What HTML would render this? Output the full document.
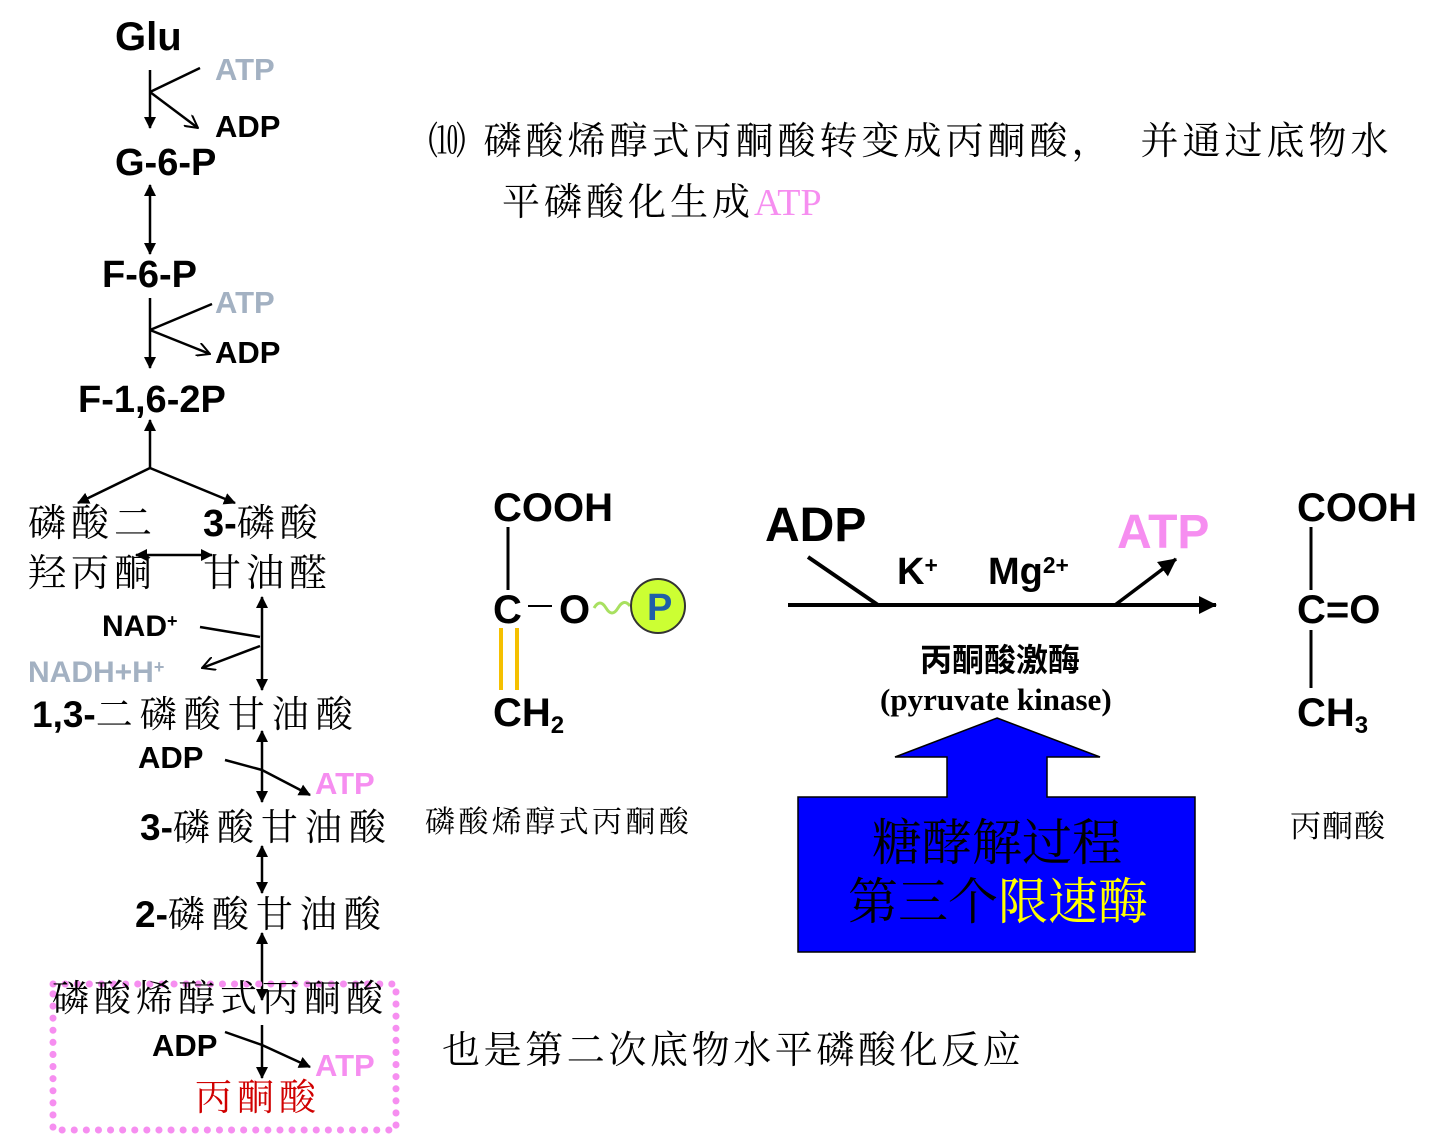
<!DOCTYPE html>
<html><head><meta charset="utf-8"><style>
body{margin:0;width:1440px;height:1136px;background:#fff;position:relative;overflow:hidden}
.t{position:absolute;white-space:nowrap;line-height:1;font-family:"Liberation Sans","Noto Sans CJK SC",sans-serif;font-weight:bold;color:#000}
.k{font-family:"Liberation Serif","Noto Serif CJK SC",serif;font-weight:normal;letter-spacing:5px}
.g{color:#a3b1c2}.p{color:#f68ef0}
sup{font-size:60%;vertical-align:0;position:relative;top:-0.5em}
sub{font-size:60%;vertical-align:0;position:relative;top:0.3em}
</style></head><body>
<svg width="1440" height="1136" style="position:absolute;left:0;top:0">
<defs>
<marker id="a" markerWidth="12" markerHeight="12" refX="11" refY="6" orient="auto-start-reverse" markerUnits="userSpaceOnUse"><path d="M0,0L12,6L0,12z" fill="#000"/></marker>
<marker id="o" markerWidth="14" markerHeight="14" refX="13" refY="7" orient="auto" markerUnits="userSpaceOnUse"><path d="M0,0L13,7L0,14" fill="none" stroke="#000" stroke-width="2"/></marker>
<marker id="b" markerWidth="18" markerHeight="18" refX="17" refY="9" orient="auto" markerUnits="userSpaceOnUse"><path d="M0,0L18,9L0,18z" fill="#000"/></marker>
</defs>
<g stroke="#000" stroke-width="2.5" fill="none">
<line x1="150" y1="70" x2="150" y2="128" marker-end="url(#a)"/>
<line x1="150" y1="92" x2="200" y2="68"/>
<line x1="150" y1="92" x2="198" y2="128" marker-end="url(#o)"/>
<line x1="150" y1="185" x2="150" y2="254" marker-end="url(#a)" marker-start="url(#a)"/>
<line x1="150" y1="298" x2="150" y2="368" marker-end="url(#a)"/>
<line x1="150" y1="330" x2="212" y2="304"/>
<line x1="150" y1="330" x2="210" y2="354" marker-end="url(#o)"/>
<line x1="150" y1="468" x2="150" y2="420" marker-end="url(#a)"/>
<line x1="150" y1="468" x2="78" y2="503" marker-end="url(#a)"/>
<line x1="150" y1="468" x2="235" y2="503" marker-end="url(#a)"/>
<line x1="136" y1="555" x2="212" y2="555" marker-end="url(#a)" marker-start="url(#a)"/>
<line x1="262" y1="597" x2="262" y2="690" marker-end="url(#a)" marker-start="url(#a)"/>
<line x1="200" y1="627" x2="260" y2="637"/>
<line x1="260" y1="646" x2="202" y2="668" marker-end="url(#o)"/>
<line x1="262" y1="731" x2="262" y2="802" marker-end="url(#a)" marker-start="url(#a)"/>
<line x1="225" y1="760" x2="262" y2="770"/>
<line x1="262" y1="770" x2="310" y2="795" marker-end="url(#a)"/>
<line x1="262" y1="846" x2="262" y2="893" marker-end="url(#a)" marker-start="url(#a)"/>
<line x1="262" y1="933" x2="262" y2="1000" marker-end="url(#a)" marker-start="url(#a)"/>
<line x1="262" y1="1025" x2="262" y2="1078" marker-end="url(#a)"/>
<line x1="225" y1="1032" x2="262" y2="1045"/>
<line x1="262" y1="1045" x2="310" y2="1067" marker-end="url(#a)"/>
</g>
<rect x="53" y="984" width="343" height="146" fill="none" stroke="#f68ef0" stroke-width="7" stroke-dasharray="0.1 12" stroke-linecap="round"/>
<g stroke="#000" stroke-width="3">
<line x1="508" y1="527" x2="508" y2="590"/>
<line x1="528" y1="606" x2="552" y2="606" stroke-width="2"/>
<line x1="1311" y1="527" x2="1311" y2="590"/>
<line x1="1311" y1="630" x2="1311" y2="688"/>
</g>
<line x1="501" y1="628" x2="501" y2="690" stroke="#f5c000" stroke-width="4"/>
<line x1="517" y1="628" x2="517" y2="690" stroke="#f5c000" stroke-width="4"/>
<path d="M594,608 q6,-10 12,0 t12,0 t12,-2" stroke="#a8e060" stroke-width="3" fill="none"/>
<circle cx="658" cy="606" r="27" fill="#ccff33" stroke="#333" stroke-width="2"/>
<g stroke="#000" stroke-width="4">
<line x1="788" y1="605" x2="1216" y2="605" marker-end="url(#b)"/>
<line x1="808" y1="557" x2="878" y2="605"/>
<line x1="1115" y1="605" x2="1176" y2="559" marker-end="url(#b)" stroke-width="3.5"/>
</g>
<polygon points="997,718 1100,757 1047,757 1047,797 1195,797 1195,952 798,952 798,797 947,797 947,757 895,757" fill="#0000ff" stroke="#000" stroke-width="1.5"/>
</svg>

<div class="t" style="left:115px;top:17px;font-size:40px">Glu</div>
<div class="t g" style="left:215px;top:54px;font-size:31px">ATP</div>
<div class="t" style="left:215px;top:111px;font-size:31px">ADP</div>
<div class="t" style="left:115px;top:144px;font-size:38px">G-6-P</div>
<div class="t" style="left:102px;top:256px;font-size:38px">F-6-P</div>
<div class="t g" style="left:215px;top:287px;font-size:31px">ATP</div>
<div class="t" style="left:215px;top:337px;font-size:31px">ADP</div>
<div class="t" style="left:78px;top:381px;font-size:38px">F-1,6-2P</div>
<div class="t k" style="left:28px;top:505px;font-size:38px">磷酸二</div>
<div class="t k" style="left:28px;top:555px;font-size:38px">羟丙酮</div>
<div class="t" style="left:203px;top:505px;font-size:38px">3-<span class="k">磷酸</span></div>
<div class="t k" style="left:203px;top:555px;font-size:38px">甘油醛</div>
<div class="t" style="left:102px;top:612px;font-size:30px">NAD<sup>+</sup></div>
<div class="t g" style="left:28px;top:658px;font-size:30px">NADH+H<sup>+</sup></div>
<div class="t" style="left:32px;top:696px;font-size:37px">1,3-<span class="k" style="letter-spacing:7px">二磷酸甘油酸</span></div>
<div class="t" style="left:138px;top:742px;font-size:31px">ADP</div>
<div class="t p" style="left:315px;top:768px;font-size:31px">ATP</div>
<div class="t" style="left:140px;top:809px;font-size:37px">3-<span class="k" style="letter-spacing:7px">磷酸甘油酸</span></div>
<div class="t" style="left:135px;top:896px;font-size:37px">2-<span class="k" style="letter-spacing:7px">磷酸甘油酸</span></div>
<div class="t k" style="left:52px;top:981px;font-size:37px">磷酸烯醇式丙酮酸</div>
<div class="t" style="left:152px;top:1030px;font-size:31px">ADP</div>
<div class="t p" style="left:315px;top:1050px;font-size:31px">ATP</div>
<div class="t k" style="left:195px;top:1080px;font-size:37px;color:#d00000">丙酮酸</div>

<div class="t k" style="left:428px;top:123px;font-size:38px;letter-spacing:4px">⑽ 磷酸烯醇式丙酮酸转变成丙酮酸，&nbsp;&nbsp;并通过底物水</div>
<div class="t k" style="left:502px;top:184px;font-size:38px;letter-spacing:4px">平磷酸化生成<span class="p" style="letter-spacing:0">ATP</span></div>

<div class="t" style="left:493px;top:488px;font-size:40px">COOH</div>
<div class="t" style="left:493px;top:590px;font-size:40px">C</div>
<div class="t" style="left:559px;top:590px;font-size:40px">O</div>
<div class="t" style="left:647px;top:589px;font-size:38px;color:#1f5fa8">P</div>
<div class="t" style="left:493px;top:693px;font-size:40px">CH<sub>2</sub></div>
<div class="t k" style="left:425px;top:808px;font-size:30px;letter-spacing:3.4px">磷酸烯醇式丙酮酸</div>

<div class="t" style="left:765px;top:502px;font-size:48px">ADP</div>
<div class="t p" style="left:1117px;top:509px;font-size:48px">ATP</div>
<div class="t" style="left:897px;top:553px;font-size:38px">K<sup>+</sup></div>
<div class="t" style="left:988px;top:553px;font-size:38px">Mg<sup>2+</sup></div>
<div class="t" style="left:920px;top:644px;font-size:32px">丙酮酸激酶</div>
<div class="t" style="left:880px;top:684px;font-size:31px;font-family:'Liberation Serif',serif">(pyruvate kinase)</div>
<div class="t k" style="left:872px;top:818px;font-size:50px;letter-spacing:0">糖酵解过程</div>
<div class="t k" style="left:848px;top:877px;font-size:50px;letter-spacing:0">第三个<span style="color:#ffff00">限速酶</span></div>

<div class="t" style="left:1297px;top:488px;font-size:40px">COOH</div>
<div class="t" style="left:1297px;top:590px;font-size:40px">C=O</div>
<div class="t" style="left:1297px;top:693px;font-size:40px">CH<sub>3</sub></div>
<div class="t k" style="left:1290px;top:811px;font-size:31px;letter-spacing:1px">丙酮酸</div>

<div class="t k" style="left:442px;top:1032px;font-size:38px;letter-spacing:3.6px">也是第二次底物水平磷酸化反应</div>
</body></html>
